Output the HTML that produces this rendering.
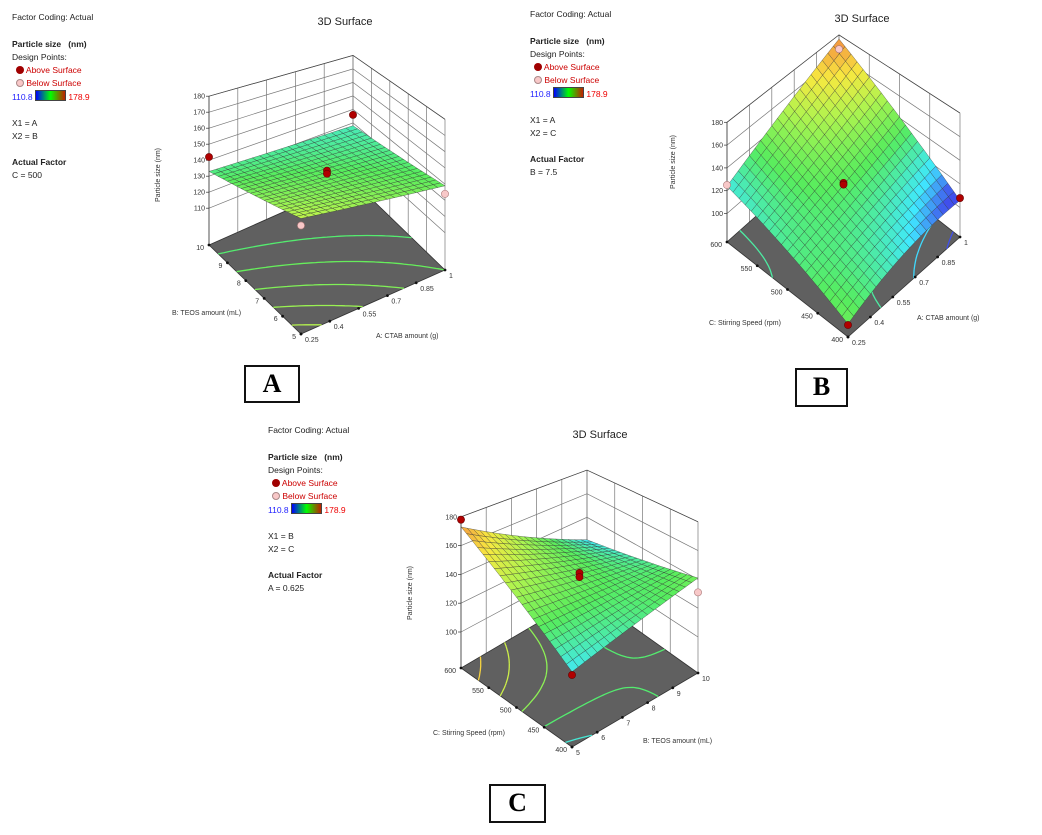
<!DOCTYPE html>
<html><head><meta charset="utf-8">
<style>
html,body{margin:0;padding:0;background:#fff;}
body{width:1042px;height:835px;position:relative;overflow:hidden;font-family:"Liberation Sans",sans-serif;}
.leg{position:absolute;font-size:8.5px;color:#222;line-height:13px;}
.leg b{font-weight:bold;}
.box{position:absolute;border:2px solid #111;font-family:"Liberation Serif",serif;font-weight:bold;font-size:26px;text-align:center;line-height:33px;}
</style></head>
<body>
<svg id="chart" width="1042" height="835" style="position:absolute;left:0;top:0" font-family="Liberation Sans, sans-serif"></svg>

<div class="leg" style="left:12px;top:11px">
<div>Factor Coding: Actual</div><div style="height:14px"></div>
<div><b>Particle size &nbsp;&nbsp;(nm)</b></div><div>Design Points:</div>
<div style="padding-left:4px"><span style="display:inline-block;width:8px;height:8px;border-radius:50%;background:#a00000;vertical-align:-1px"></span> <span style="color:#c00">Above Surface</span></div>
<div style="padding-left:4px"><span style="display:inline-block;width:8px;height:8px;border-radius:50%;background:#f8c8c8;border:1px solid #a88;box-sizing:border-box;vertical-align:-1px"></span> <span style="color:#c00">Below Surface</span></div>
<div><span style="color:#22f">110.8</span> <span style="display:inline-block;width:29px;height:9px;background:linear-gradient(90deg,#00f,#0f0,#c02000);vertical-align:-1px;border:1px solid #444"></span> <span style="color:#e00">178.9</span></div>
<div style="height:13px"></div><div>X1 = A</div><div>X2 = B</div><div style="height:13px"></div>
<div><b>Actual Factor</b></div><div>C = 500</div></div>

<div class="leg" style="left:530px;top:8px">
<div>Factor Coding: Actual</div><div style="height:14px"></div>
<div><b>Particle size &nbsp;&nbsp;(nm)</b></div><div>Design Points:</div>
<div style="padding-left:4px"><span style="display:inline-block;width:8px;height:8px;border-radius:50%;background:#a00000;vertical-align:-1px"></span> <span style="color:#c00">Above Surface</span></div>
<div style="padding-left:4px"><span style="display:inline-block;width:8px;height:8px;border-radius:50%;background:#f8c8c8;border:1px solid #a88;box-sizing:border-box;vertical-align:-1px"></span> <span style="color:#c00">Below Surface</span></div>
<div><span style="color:#22f">110.8</span> <span style="display:inline-block;width:29px;height:9px;background:linear-gradient(90deg,#00f,#0f0,#c02000);vertical-align:-1px;border:1px solid #444"></span> <span style="color:#e00">178.9</span></div>
<div style="height:13px"></div><div>X1 = A</div><div>X2 = C</div><div style="height:13px"></div>
<div><b>Actual Factor</b></div><div>B = 7.5</div></div>

<div class="leg" style="left:268px;top:424px">
<div>Factor Coding: Actual</div><div style="height:14px"></div>
<div><b>Particle size &nbsp;&nbsp;(nm)</b></div><div>Design Points:</div>
<div style="padding-left:4px"><span style="display:inline-block;width:8px;height:8px;border-radius:50%;background:#a00000;vertical-align:-1px"></span> <span style="color:#c00">Above Surface</span></div>
<div style="padding-left:4px"><span style="display:inline-block;width:8px;height:8px;border-radius:50%;background:#f8c8c8;border:1px solid #a88;box-sizing:border-box;vertical-align:-1px"></span> <span style="color:#c00">Below Surface</span></div>
<div><span style="color:#22f">110.8</span> <span style="display:inline-block;width:29px;height:9px;background:linear-gradient(90deg,#00f,#0f0,#c02000);vertical-align:-1px;border:1px solid #444"></span> <span style="color:#e00">178.9</span></div>
<div style="height:13px"></div><div>X1 = B</div><div>X2 = C</div><div style="height:13px"></div>
<div><b>Actual Factor</b></div><div>A = 0.625</div></div>

<div class="box" style="left:244px;top:365px;width:52px;height:34px">A</div>
<div class="box" style="left:795px;top:368px;width:49px;height:35px">B</div>
<div class="box" style="left:489px;top:784px;width:53px;height:35px">C</div>

<script>
// ---- data (values in nm / factor units) ----
const aUTicks = ["0.25","0.4","0.55","0.7","0.85","1"];
const aVTicks = ["5","6","7","8","9","10"];
const aZTicks = [110,120,130,140,150,160,170,180];
const aCornerZ = [153,139,133,128]; // front, right, left, back
const aPtU = [0,1,0.5,0.5,0,1];
const aPtV = [1,1,0.5,0.5,0,0];
const aPtZ = [142,136,142,140,149,134];
const aPtAbove = [1,1,1,1,0,0];

const bUTicks = ["0.25","0.4","0.55","0.7","0.85","1"];
const bVTicks = ["400","450","500","550","600"];
const bZTicks = [100,120,140,160,180];
const bCornerZ = [140,106,124,176];
const bPtU = [1,0,1,0,0.5,0.5];
const bPtV = [1,1,0,0,0.5,0.5];
const bPtZ = [166,125,108,135,139,137];
const bPtAbove = [0,0,1,1,1,1];

const cUTicks = ["5","6","7","8","9","10"];
const cVTicks = ["400","450","500","550","600"];
const cZTicks = [100,120,140,160,180];
const cCornerZ = [122,141,173,121];
const cPtU = [0,1,0,0.5,0.5];
const cPtV = [1,0,0,0.5,0.5];
const cPtZ = [178,131,120,144,141];
const cPtAbove = [1,0,1,1,1];

const zMinColor = 110.8, zMaxColor = 178.9;

const svg = document.getElementById('chart');
const NS = 'http://www.w3.org/2000/svg';
function mk(tag, attrs, parent){const e=document.createElementNS(NS,tag);for(const k in attrs)e.setAttribute(k,attrs[k]);(parent||svg).appendChild(e);return e;}
function cmap(z){
  let t=(z-zMinColor)/(zMaxColor-zMinColor);t=Math.max(0,Math.min(1,t));
  const st=[[0,0,20,230],[0.15,0,225,255],[0.38,30,230,40],[0.58,150,240,20],[0.75,245,225,0],[1,235,70,0]];
  let i=0;while(i<st.length-2&&t>st[i+1][0])i++;
  const a=st[i],b=st[i+1],f=(t-a[0])/(b[0]-a[0]);
  const c=[1,2,3].map(k=>a[k]+(b[k]-a[k])*f).map(v=>Math.round(v*0.75+255*0.25));
  return 'rgb('+c.join(',')+')';
}

function panel(cfg){
  const g=mk('g',{});
  
  
  const bil=(arr,u,v)=>arr[0]*(1-u)*(1-v)+arr[1]*u*(1-v)+arr[2]*(1-u)*v+arr[3]*u*v;
  const X=cfg.cx,Y=cfg.cy,S=cfg.sc;
  const P=(u,v,z)=>[bil(X,u,v),bil(Y,u,v)-bil(S,u,v)*(z-cfg.zFloor)];
  const Z=(u,v)=>bil(cfg.cz,u,v);
  const pt=p=>p[0].toFixed(1)+','+p[1].toFixed(1);
  const zTop=cfg.zt[cfg.zt.length-1];
  const ti=mk('text',{x:cfg.tx,y:cfg.ty,'font-size':11,'text-anchor':'middle',fill:'#222'},g);ti.textContent='3D Surface';
  
  
  const nu=cfg.ut.length-1,nv=cfg.vt.length-1;
  const wall=mk('g',{stroke:'#777','stroke-width':0.7,fill:'none'},g);
  
  
  for(let i=0;i<=nu;i++){const u=i/nu;mk('line',{x1:P(u,1,cfg.zFloor)[0],y1:P(u,1,cfg.zFloor)[1],x2:P(u,1,zTop)[0],y2:P(u,1,zTop)[1]},wall);}
  for(let j=0;j<=nv;j++){const v=j/nv;mk('line',{x1:P(1,v,cfg.zFloor)[0],y1:P(1,v,cfg.zFloor)[1],x2:P(1,v,zTop)[0],y2:P(1,v,zTop)[1]},wall);}
  for(const z of cfg.zt){
    mk('polyline',{points:[P(0,1,z),P(1,1,z),P(1,0,z)].map(pt).join(' ')},wall);
  }
  mk('polyline',{points:[P(0,1,zTop),P(1,1,zTop),P(1,0,zTop)].map(pt).join(' '),stroke:'#444'},wall);
  mk('line',{x1:P(0,1,cfg.zFloor)[0],y1:P(0,1,cfg.zFloor)[1],x2:P(0,1,zTop)[0],y2:P(0,1,zTop)[1],stroke:'#333'},wall);
  const fl=mk('polygon',{points:[P(0,0,cfg.zFloor),P(1,0,cfg.zFloor),P(1,1,cfg.zFloor),P(0,1,cfg.zFloor)].map(pt).join(' '),fill:'#606060',stroke:'#333','stroke-width':0.8},g);
  
  
  const N=30;
  for(const lev of cfg.levels){
    const segs=[];
    for(let i=0;i<N;i++)for(let j=0;j<N;j++){
      const c=[[i/N,j/N],[(i+1)/N,j/N],[(i+1)/N,(j+1)/N],[i/N,(j+1)/N]];
      const pts=[];
      for(let k=0;k<4;k++){const a=c[k],b=c[(k+1)%4];const za=Z(a[0],a[1])-lev,zb=Z(b[0],b[1])-lev;
        if((za<0)!==(zb<0)){const f=za/(za-zb);pts.push([a[0]+(b[0]-a[0])*f,a[1]+(b[1]-a[1])*f]);}}
      if(pts.length>=2)segs.push('M'+pt(P(pts[0][0],pts[0][1],cfg.zFloor))+'L'+pt(P(pts[1][0],pts[1][1],cfg.zFloor)));
    }
    if(segs.length){const cl=mk('path',{d:segs.join(''),stroke:cmap(lev),'stroke-width':1.3,fill:'none'},g);
      
      }
  }
  const tk=mk('g',{'font-size':7,fill:'#333'},g);
  for(const z of cfg.zt){const p=P(0,1,z);
    mk('line',{x1:p[0]-3,y1:p[1],x2:p[0],y2:p[1],stroke:'#333','stroke-width':0.7},tk);
    const t=mk('text',{x:p[0]-4,y:p[1]+2.5,'text-anchor':'end'},tk);t.textContent=z;}
  cfg.vt.forEach((lab,j)=>{const p=P(0,j/nv,cfg.zFloor);mk('circle',{cx:p[0],cy:p[1],r:1.4,fill:'#111'},tk);
    const t=mk('text',{x:p[0]-5,y:p[1]+5,'text-anchor':'end'},tk);t.textContent=lab;});
  cfg.ut.forEach((lab,i)=>{const p=P(i/nu,0,cfg.zFloor);mk('circle',{cx:p[0],cy:p[1],r:1.4,fill:'#111'},tk);
    const t=mk('text',{x:p[0]+4,y:p[1]+8},tk);t.textContent=lab;});
  const sf=mk('g',{stroke:'#333','stroke-width':0.45,'stroke-opacity':0.75},g);
  
  
  const M=20,cells=[];
  for(let i=0;i<M;i++)for(let j=0;j<M;j++)cells.push([i,j]);
  cells.sort((a,b)=>(b[0]+b[1])-(a[0]+a[1]));
  for(const [i,j] of cells){const u0=i/M,u1=(i+1)/M,v0=j/M,v1=(j+1)/M;
    const q=[[u0,v0],[u1,v0],[u1,v1],[u0,v1]];
    const zc=Z((u0+u1)/2,(v0+v1)/2);
    mk('polygon',{points:q.map(a=>pt(P(a[0],a[1],Z(a[0],a[1])))).join(' '),fill:cmap(zc)},sf);}
  cfg.pu.forEach((u,k)=>{const p=P(u,cfg.pv[k],cfg.pz[k]);
    const c=mk('circle',{cx:p[0],cy:p[1],r:3.6,fill:cfg.pa[k]?'#b00000':'#f8c8c8',stroke:cfg.pa[k]?'#600':'#a77','stroke-width':0.6},g);
    
    });
  const zt=mk('text',{x:cfg.zl[0],y:cfg.zl[1],'font-size':7,fill:'#333','text-anchor':'middle',transform:'rotate(-90 '+cfg.zl[0]+' '+cfg.zl[1]+')'},g);
  zt.textContent='Particle size   (nm)';
  
  
  const vtl=mk('text',{x:cfg.vl[0],y:cfg.vl[1],'font-size':7,fill:'#333'},g);vtl.textContent=cfg.vname;
  
  
  const utl=mk('text',{x:cfg.ul[0],y:cfg.ul[1],'font-size':7,fill:'#333'},g);utl.textContent=cfg.uname;
  
  
}

panel({name:'surface-chart-a',cx:[301,445,209,353],cy:[334,270,245,181],sc:[1.75,1.62,1.6,1.35],zFloor:87,
  zt:aZTicks,ut:aUTicks,vt:aVTicks,cz:aCornerZ,pu:aPtU,pv:aPtV,pz:aPtZ,pa:aPtAbove,levels:[135,139,143,147,151],
  tx:345,ty:25,zl:[160,175],vl:[172,315],ul:[376,338],vname:'B: TEOS amount (mL)',uname:'A: CTAB amount (g)'});
panel({name:'surface-chart-b',cx:[848,960,727,839],cy:[337,237,242,142],sc:[0.2,1.18,1.14,1.02],zFloor:75,
  zt:bZTicks,ut:bUTicks,vt:bVTicks,cz:bCornerZ,pu:bPtU,pv:bPtV,pz:bPtZ,pa:bPtAbove,levels:[110,120,130,140],
  tx:862,ty:22,zl:[675,162],vl:[709,325],ul:[917,320],vname:'C: Stirring Speed (rpm)',uname:'A: CTAB amount (g)'});
panel({name:'surface-chart-c',cx:[572,698,461,587],cy:[747,673,668,594],sc:[1.6,1.44,1.44,1.18],zFloor:75,
  zt:cZTicks,ut:cUTicks,vt:cVTicks,cz:cCornerZ,pu:cPtU,pv:cPtV,pz:cPtZ,pa:cPtAbove,levels:[125,135,145,155,165],
  tx:600,ty:438,zl:[412,593],vl:[433,735],ul:[643,743],vname:'C: Stirring Speed (rpm)',uname:'B: TEOS amount (mL)'});
</script>
</body></html>
